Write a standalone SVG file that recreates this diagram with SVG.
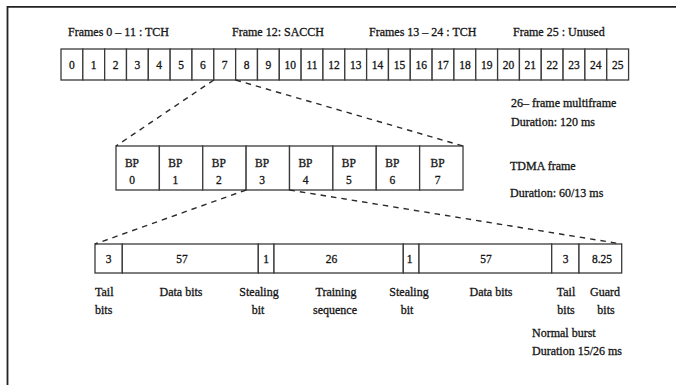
<svg xmlns="http://www.w3.org/2000/svg" width="676" height="385" viewBox="0 0 676 385">
  <style>
    text { font-family: "Liberation Serif", "DejaVu Serif", serif; fill: #151515; stroke: #151515; stroke-width: 0.3; }
    .lbl { font-size: 12px; }
    .num { font-size: 11.5px; text-anchor: middle; }
    .cell { fill: #ffffff; stroke: #3a3a3a; stroke-width: 1.3; }
    .dash { fill: none; stroke: #2a2a2a; stroke-width: 1.4; stroke-dasharray: 5.5 5; }
    .mid { text-anchor: middle; }
  </style>

  <rect x="0" y="0" width="676" height="385" fill="#ffffff"/>
  <!-- frame border: top and left edges only -->
  <path d="M7.5,385 V6.8 H676" fill="none" stroke="#222" stroke-width="1.8"/>

  <!-- channel labels -->
  <g id="labels-top" class="lbl">
    <text x="68" y="36">Frames 0 – 11 : TCH</text>
    <text x="232" y="36">Frame 12: SACCH</text>
    <text x="369" y="36">Frames 13 – 24 : TCH</text>
    <text x="513" y="36">Frame 25 : Unused</text>
  </g>

  <!-- 26-frame multiframe -->
  <g id="multiframe">
    <g id="f0"><rect class="cell" x="61" y="49" width="21.83" height="31"/><text class="num" x="71.9" y="69">0</text></g>
    <g id="f1"><rect class="cell" x="82.83" y="49" width="21.83" height="31"/><text class="num" x="93.7" y="69">1</text></g>
    <g id="f2"><rect class="cell" x="104.66" y="49" width="21.83" height="31"/><text class="num" x="115.6" y="69">2</text></g>
    <g id="f3"><rect class="cell" x="126.49" y="49" width="21.83" height="31"/><text class="num" x="137.4" y="69">3</text></g>
    <g id="f4"><rect class="cell" x="148.32" y="49" width="21.83" height="31"/><text class="num" x="159.2" y="69">4</text></g>
    <g id="f5"><rect class="cell" x="170.15" y="49" width="21.83" height="31"/><text class="num" x="181.1" y="69">5</text></g>
    <g id="f6"><rect class="cell" x="191.98" y="49" width="21.83" height="31"/><text class="num" x="202.9" y="69">6</text></g>
    <g id="f7"><rect class="cell" x="213.81" y="49" width="21.83" height="31"/><text class="num" x="224.7" y="69">7</text></g>
    <g id="f8"><rect class="cell" x="235.64" y="49" width="21.83" height="31"/><text class="num" x="246.6" y="69">8</text></g>
    <g id="f9"><rect class="cell" x="257.47" y="49" width="21.83" height="31"/><text class="num" x="268.4" y="69">9</text></g>
    <g id="f10"><rect class="cell" x="279.3" y="49" width="21.83" height="31"/><text class="num" x="290.2" y="69">10</text></g>
    <g id="f11"><rect class="cell" x="301.13" y="49" width="21.83" height="31"/><text class="num" x="312" y="69">11</text></g>
    <g id="f12"><rect class="cell" x="322.96" y="49" width="21.83" height="31"/><text class="num" x="333.9" y="69">12</text></g>
    <g id="f13"><rect class="cell" x="344.79" y="49" width="21.83" height="31"/><text class="num" x="355.7" y="69">13</text></g>
    <g id="f14"><rect class="cell" x="366.62" y="49" width="21.83" height="31"/><text class="num" x="377.5" y="69">14</text></g>
    <g id="f15"><rect class="cell" x="388.45" y="49" width="21.83" height="31"/><text class="num" x="399.4" y="69">15</text></g>
    <g id="f16"><rect class="cell" x="410.28" y="49" width="21.83" height="31"/><text class="num" x="421.2" y="69">16</text></g>
    <g id="f17"><rect class="cell" x="432.11" y="49" width="21.83" height="31"/><text class="num" x="443" y="69">17</text></g>
    <g id="f18"><rect class="cell" x="453.94" y="49" width="21.83" height="31"/><text class="num" x="464.9" y="69">18</text></g>
    <g id="f19"><rect class="cell" x="475.77" y="49" width="21.83" height="31"/><text class="num" x="486.7" y="69">19</text></g>
    <g id="f20"><rect class="cell" x="497.6" y="49" width="21.83" height="31"/><text class="num" x="508.5" y="69">20</text></g>
    <g id="f21"><rect class="cell" x="519.43" y="49" width="21.83" height="31"/><text class="num" x="530.3" y="69">21</text></g>
    <g id="f22"><rect class="cell" x="541.26" y="49" width="21.83" height="31"/><text class="num" x="552.2" y="69">22</text></g>
    <g id="f23"><rect class="cell" x="563.09" y="49" width="21.83" height="31"/><text class="num" x="574" y="69">23</text></g>
    <g id="f24"><rect class="cell" x="584.92" y="49" width="21.83" height="31"/><text class="num" x="595.8" y="69">24</text></g>
    <g id="f25"><rect class="cell" x="606.75" y="49" width="21.83" height="31"/><text class="num" x="617.7" y="69">25</text></g>
  </g>

  <g id="multiframe-caption" class="lbl">
    <text x="511" y="107">26– frame multiframe</text>
    <text x="511" y="126">Duration: 120 ms</text>
  </g>

  <!-- TDMA frame: 8 burst periods -->
  <g id="tdma-frame">
    <g id="bp0"><rect class="cell" x="116" y="146" width="43.38" height="44"/><text class="num" x="132" y="167">BP</text><text class="num" x="132" y="184">0</text></g>
    <g id="bp1"><rect class="cell" x="159.38" y="146" width="43.38" height="44"/><text class="num" x="175.4" y="167">BP</text><text class="num" x="175.4" y="184">1</text></g>
    <g id="bp2"><rect class="cell" x="202.75" y="146" width="43.38" height="44"/><text class="num" x="218.8" y="167">BP</text><text class="num" x="218.8" y="184">2</text></g>
    <g id="bp3"><rect class="cell" x="246.13" y="146" width="43.38" height="44"/><text class="num" x="262.1" y="167">BP</text><text class="num" x="262.1" y="184">3</text></g>
    <g id="bp4"><rect class="cell" x="289.5" y="146" width="43.38" height="44"/><text class="num" x="305.5" y="167">BP</text><text class="num" x="305.5" y="184">4</text></g>
    <g id="bp5"><rect class="cell" x="332.88" y="146" width="43.38" height="44"/><text class="num" x="348.9" y="167">BP</text><text class="num" x="348.9" y="184">5</text></g>
    <g id="bp6"><rect class="cell" x="376.25" y="146" width="43.38" height="44"/><text class="num" x="392.3" y="167">BP</text><text class="num" x="392.3" y="184">6</text></g>
    <g id="bp7"><rect class="cell" x="419.63" y="146" width="43.38" height="44"/><text class="num" x="437.6" y="167">BP</text><text class="num" x="437.6" y="184">7</text></g>
  </g>

  <g id="tdma-caption" class="lbl">
    <text x="510" y="170">TDMA frame</text>
    <text x="510" y="197">Duration: 60/13 ms</text>
  </g>

  <!-- normal burst fields -->
  <g id="normal-burst">
    <g id="tail-a"><rect class="cell" x="95" y="244" width="27.3" height="29"/><text class="num" x="108.6" y="263">3</text></g>
    <g id="data-a"><rect class="cell" x="122.3" y="244" width="136" height="29"/><text class="num" x="182" y="263">57</text></g>
    <g id="steal-a"><rect class="cell" x="258.3" y="244" width="15.7" height="29"/><text class="num" x="266.1" y="263">1</text></g>
    <g id="training"><rect class="cell" x="274" y="244" width="129.3" height="29"/><text class="num" x="331.5" y="263">26</text></g>
    <g id="steal-b"><rect class="cell" x="403.3" y="244" width="15.7" height="29"/><text class="num" x="409.5" y="263">1</text></g>
    <g id="data-b"><rect class="cell" x="419" y="244" width="132.7" height="29"/><text class="num" x="486" y="263">57</text></g>
    <g id="tail-b"><rect class="cell" x="551.7" y="244" width="27.3" height="29"/><text class="num" x="565.5" y="263">3</text></g>
    <g id="guard"><rect class="cell" x="579" y="244" width="42.7" height="29"/><text class="num" x="602" y="263">8.25</text></g>
  </g>

  <g id="field-labels" class="lbl">
    <text x="95" y="296">Tail</text>
    <text x="95" y="314">bits</text>
    <text class="mid" x="181" y="296">Data bits</text>
    <text class="mid" x="259" y="296">Stealing</text>
    <text class="mid" x="258" y="314">bit</text>
    <text class="mid" x="336" y="296">Training</text>
    <text class="mid" x="335" y="314">sequence</text>
    <text class="mid" x="409" y="296">Stealing</text>
    <text class="mid" x="407" y="314">bit</text>
    <text class="mid" x="491" y="296">Data bits</text>
    <text class="mid" x="566" y="296">Tail</text>
    <text class="mid" x="566" y="314">bits</text>
    <text class="mid" x="605" y="296">Guard</text>
    <text class="mid" x="606" y="314">bits</text>
  </g>

  <g id="burst-caption" class="lbl">
    <text x="532" y="337">Normal burst</text>
    <text x="532" y="355">Duration 15/26 ms</text>
  </g>

  <!-- expansion connectors -->
  <g id="connectors">
    <path class="dash" d="M213.8,80 L116,146"/>
    <path class="dash" d="M235.6,80 L463,146"/>
    <path class="dash" d="M246.1,190 L95,244"/>
    <path class="dash" d="M289.5,190 L621.7,244"/>
  </g>
</svg>
